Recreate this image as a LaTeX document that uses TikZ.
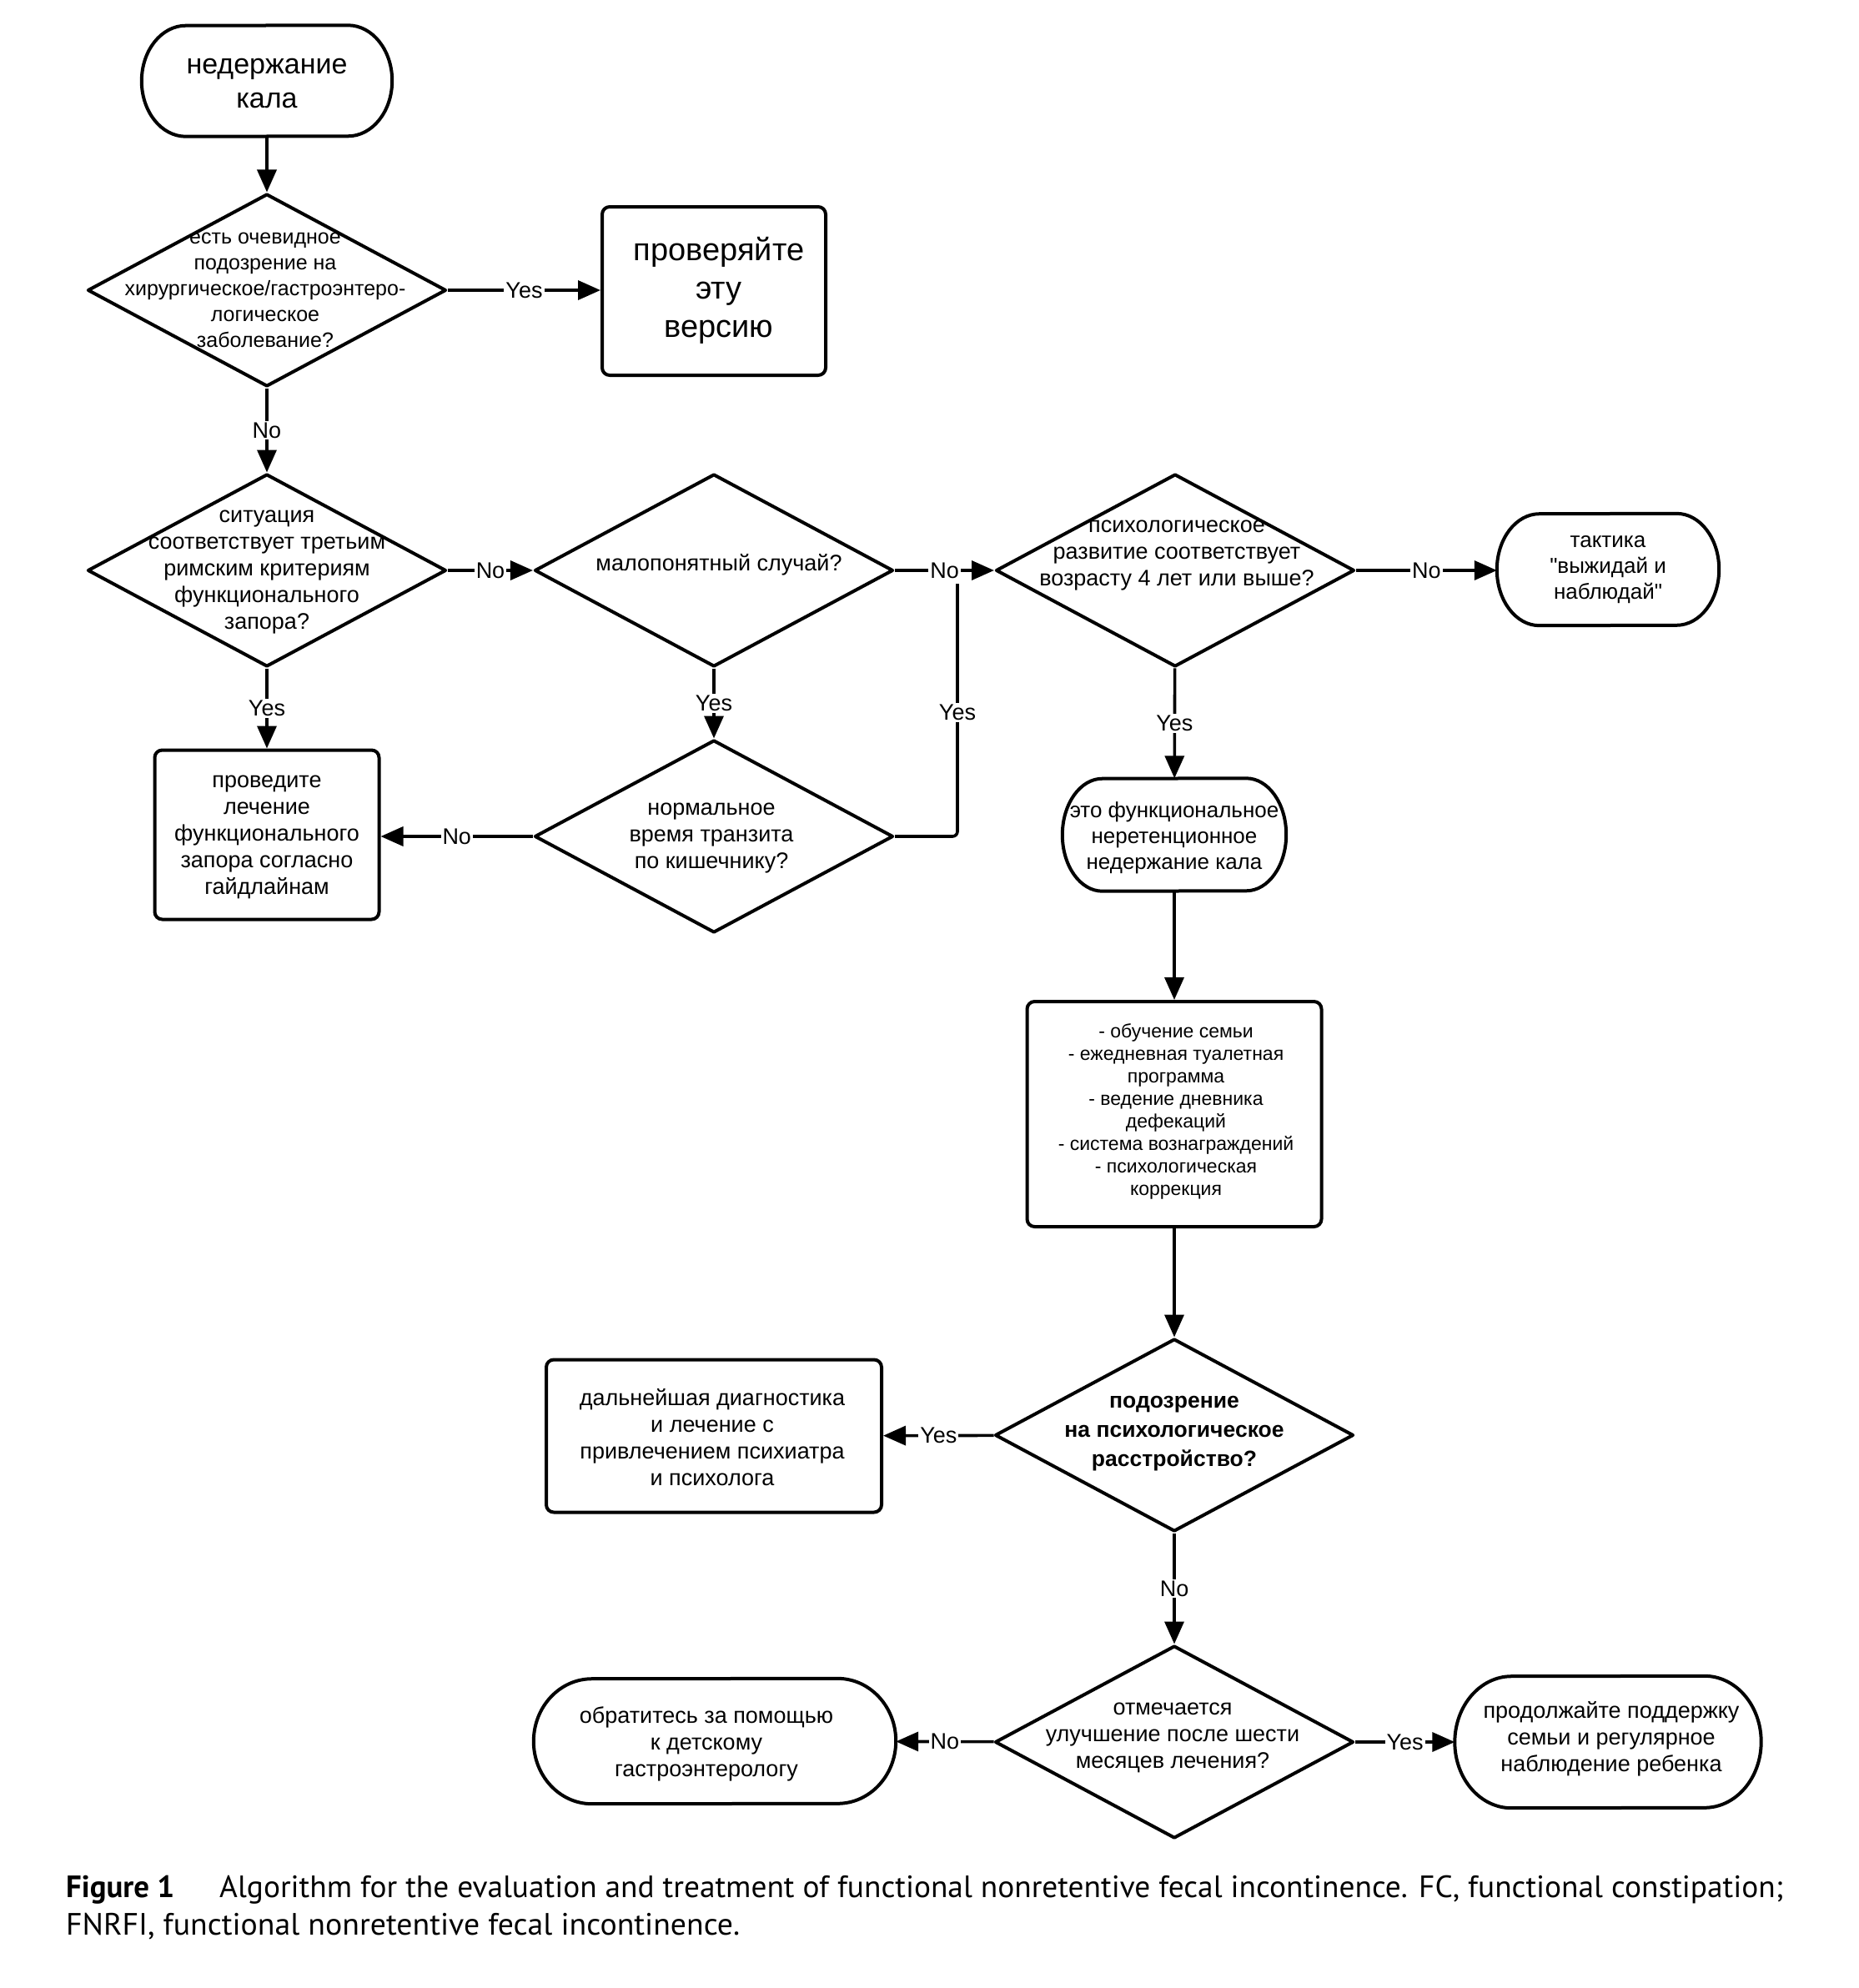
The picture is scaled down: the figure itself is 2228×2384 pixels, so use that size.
\documentclass[tikz,border=0pt]{standalone}
\usepackage{fontspec}
\usepackage{graphicx}
\setmainfont{Liberation Sans}
\newfontfamily\capfont{PT Sans}
\usetikzlibrary{shapes.geometric,arrows.meta}
\newcommand\mkterm[3]{\draw[shapeline] ([xshift=-#2]#1.north east) arc[start angle=90,end angle=-90,x radius=#2,y radius=#3] -- ([xshift=#2]#1.south west) arc[start angle=270,end angle=90,x radius=#2,y radius=#3] -- cycle;}
\newcommand\sq{\XeTeXglyph\XeTeXcharglyph"22\relax}
\begin{document}
\begin{tikzpicture}[x=1pt,y=-1pt,
  shapeline/.style={line width=4pt, line join=round},
  dia/.style={shapeline, draw, shape=diamond, minimum width=430pt, minimum height=231pt, inner sep=0pt},
  box/.style={shapeline, draw, rectangle, rounded corners=9pt, inner sep=0pt},
  ph/.style={rectangle, inner sep=0pt},
  txt/.style={align=center, inner sep=0pt, font=\fontsize{27}{32}\selectfont},
  conn/.style={line width=3.6pt, -{Triangle[length=27pt,width=23pt]}},
  plain/.style={line width=3.6pt},
  lab/.style={fill=white, inner sep=2pt, font=\fontsize{27}{32}\selectfont}]
\useasboundingbox (0,0) rectangle (2228,2384);

% start
\node[ph, minimum width=300pt, minimum height=133pt] (start) at (320,97) {};
\mkterm{start}{53pt}{66.5pt}
\node[txt, font=\fontsize{34}{41}\selectfont] (tstart) at (320,100) {недержание\\кала};

% d1
\node[dia] (d1) at (320,348) {};
\node[txt, font=\fontsize{25}{31}\selectfont] (td1) at (318,348) {есть очевидное\\подозрение на\\хирургическое/гастроэнтеро-\\логическое\\заболевание?};

\node[box, minimum width=268pt, minimum height=202pt] (verify) at (856,349) {};
\node[txt, font=\fontsize{38}{46}\selectfont] (tverify) at (862,348) {проверяйте\\эту\\версию};

% d2
\node[dia] (d2) at (320,684) {};
\node[txt] (td2) at (320,686) {ситуация\\соответствует третьим\\римским критериям\\функционального\\запора?};

% d3
\node[dia] (d3) at (856,684) {};
\node[txt] (td3) at (862,677) {малопонятный случай?};

% d4
\node[dia] (d4) at (1409,684) {};
\node[txt] (td4) at (1411,666) {психологическое\\развитие соответствует\\возрасту 4 лет или выше?};

\node[ph, minimum width=266pt, minimum height=134pt] (wait) at (1928,683) {};
\mkterm{wait}{51pt}{67pt}
\node[txt, font=\fontsize{26}{31}\selectfont] (twait) at (1928,683) {тактика\\\sq выжидай и\\наблюдай\sq};

\node[box, minimum width=269pt, minimum height=203pt] (fctreat) at (320,1001) {};
\node[txt] (tfctreat) at (320,1004) {проведите\\лечение\\функционального\\запора согласно\\гайдлайнам};

% d5
\node[dia] (d5) at (856,1003) {};
\node[txt] (td5) at (853,1005) {нормальное\\время транзита\\по кишечнику?};

\node[ph, minimum width=268pt, minimum height=135pt] (fnrfi) at (1408,1001) {};
\mkterm{fnrfi}{48pt}{67.5pt}
\node[txt, font=\fontsize{26}{31}\selectfont] (tfnrfi) at (1408,1005) {это функциональное\\неретенционное\\недержание кала};

\node[box, minimum width=353pt, minimum height=270pt] (plan) at (1408,1336) {};
\node[txt, font=\fontsize{23}{27}\selectfont] (tplan) at (1410,1333) {- обучение семьи\\- ежедневная туалетная\\программа\\- ведение дневника\\дефекаций\\- система вознаграждений\\- психологическая\\коррекция};

% d6
\node[dia] (d6) at (1408,1721) {};
\node[txt, font=\bfseries\fontsize{26.5}{35}\selectfont] (td6) at (1408,1719) {подозрение\\на психологическое\\расстройство?};

\node[box, minimum width=402pt, minimum height=183pt] (psy) at (856,1722) {};
\node[txt] (tpsy) at (854,1724) {дальнейшая диагностика\\и лечение с\\привлечением психиатра\\и психолога};

% d7
\node[dia] (d7) at (1408,2089) {};
\node[txt] (td7) at (1406,2084) {отмечается\\улучшение после шести\\месяцев лечения?};

\node[ph, minimum width=434pt, minimum height=150pt] (gastro) at (857,2088) {};
\mkterm{gastro}{70pt}{75pt}
\node[txt] (tgastro) at (847,2091) {обратитесь за помощью\\к детскому\\гастроэнтерологу};

\node[ph, minimum width=367pt, minimum height=158pt] (cont) at (1928,2089) {};
\mkterm{cont}{68pt}{79pt}
\node[txt] (tcont) at (1932,2085) {продолжайте поддержку\\семьи и регулярное\\наблюдение ребенка};

% connectors
\draw[conn] (start) -- (d1);
\draw[conn] (d1.east) -- node[lab]{Yes} (d1.east -| verify.west);
\draw[conn] (d1) -- node[lab]{No} (d2);
\draw[conn] (d2) -- node[lab]{No} (d3);
\draw[conn] (d3) -- node[lab]{No} (d4);
\draw[conn] (d3) -- node[lab]{Yes} (d5);
\draw[conn] (d2) -- node[lab]{Yes} (fctreat);
\draw[conn] (d5.west) -- node[lab]{No} (d5.west -| fctreat.east);
\coordinate (j) at (1148,700);
\draw[plain, rounded corners=6pt] (d5.east) -| node[lab, pos=0.745]{Yes} (j);
\draw[conn] (d4.east) -- node[lab]{No} (d4.east -| wait.west);
\draw[conn] (d4) -- node[lab]{Yes} (fnrfi);
\draw[conn] (fnrfi) -- (plan);
\draw[conn] (plan) -- (d6);
\draw[conn] (d6) -- node[lab]{Yes} (psy);
\draw[conn] (d6) -- node[lab]{No} (d7);
\draw[conn] (d7) -- node[lab]{No} (gastro);
\draw[conn] (d7) -- node[lab]{Yes} (cont);

% caption
\node[anchor=base west, inner sep=0pt, font=\capfont\fontsize{37}{46}\selectfont] (cap1) at (79,2275) {\resizebox{130pt}{\height}{\bfseries Figure 1}};
\node[anchor=base west, inner sep=0pt, font=\capfont\fontsize{37}{46}\selectfont] (cap2) at (263,2275) {\resizebox{1875pt}{\height}{Algorithm for the evaluation and treatment of functional nonretentive fecal incontinence. FC, functional constipation;}};
\node[anchor=base west, inner sep=0pt, font=\capfont\fontsize{37}{46}\selectfont] (cap3) at (79,2320) {\resizebox{808pt}{\height}{FNRFI, functional nonretentive fecal incontinence.}};
\end{tikzpicture}
\end{document}
